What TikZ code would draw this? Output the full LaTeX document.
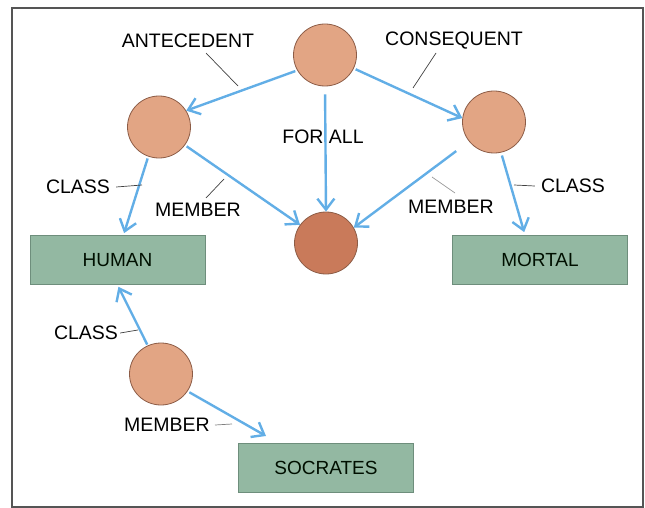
\documentclass[tikz,border=0pt]{standalone}
\usepackage{fontspec}
\setmainfont{Liberation Sans}
\usetikzlibrary{shapes.geometric,arrows.meta,calc}
\definecolor{peach}{HTML}{E2A584}
\definecolor{peachdark}{HTML}{C97A5A}
\definecolor{peachline}{HTML}{8C5C46}
\definecolor{boxgreen}{HTML}{93B8A2}
\definecolor{boxline}{HTML}{6E8E7C}
\definecolor{arrowblue}{HTML}{62AEE6}
\definecolor{frameg}{HTML}{555555}
\tikzset{
  concept/.style={ellipse, draw=peachline, line width=0.8pt, fill=peach, minimum width=63pt, minimum height=62pt, inner sep=0pt},
  classbox/.style={rectangle, draw=boxline, line width=1pt, fill=boxgreen, minimum width=175pt, minimum height=49pt, font=\fontsize{19}{21}\selectfont, text=black!85!green!40!black},
  lbl/.style={font=\fontsize{19.5}{21}\selectfont, inner sep=0pt, text=black},
  link/.style={draw=arrowblue, line width=2.4pt, -{Straight Barb[length=11pt,width=17pt,line width=2.4pt]}},
  leader/.style={draw=black!75, line width=0.7pt},
}
\begin{document}
\begin{tikzpicture}[x=1pt,y=-1pt]
\useasboundingbox (0,0) rectangle (645,508);
\draw[frameg, line width=2.2pt] (12,8) rectangle (643,507);

\node[concept] (top) at (325,55) {};
\node[concept] (L) at (159,127) {};
\node[concept] (R) at (494,122) {};
\node[concept, fill=peachdark] (C) at (326,243) {};
\node[concept] (B) at (161,374) {};

\node[classbox] (human) at (117.5,260) {HUMAN};
\node[classbox] (mortal) at (540,260) {MORTAL};
\node[classbox] (socrates) at (326,468) {SOCRATES};

\node[lbl] (antecedent) at (188,41) {ANTECEDENT};
\node[lbl] (consequent) at (454,41) {CONSEQUENT};
\node[lbl] (forall) at (323,137) {FOR ALL};
\node[lbl] (classL) at (78,187) {CLASS};
\node[lbl] (memberL) at (198,210) {MEMBER};
\node[lbl] (memberR) at (451,207) {MEMBER};
\node[lbl] (classR) at (573,186) {CLASS};
\node[lbl] (classB) at (86,333) {CLASS};
\node[lbl] (memberB) at (167,425) {MEMBER};

% arrows
\draw[link, shorten <=2pt] (top.209) -- (L.31);
\draw[link, shorten <=2pt] (top.335) -- (R.173);
\draw[link, shorten <=8pt] (top.south) -- (C.north);
\draw[link, shorten <=2pt, shorten >=2pt] (L.250) -- ([xshift=6pt]human.north);
\draw[link, shorten <=2pt] (L.325) -- (C.145);
\draw[link, shorten <=16pt] (R.218) -- (C.29);
\draw[link, shorten <=3pt, shorten >=3pt] (R.283) -- ([xshift=-15pt]mortal.north);
\draw[link, shorten <=1pt, shorten >=2pt] (B.115) -- (human.south);
\draw[link, shorten <=2pt] (B.327) -- ([xshift=-60pt,yshift=7pt]socrates.north);

% leader lines
\coordinate (a1) at (238,86);
\coordinate (c1) at (413,88);
\coordinate (cl1) at (142,185);
\coordinate (ml1) at (224,179);
\coordinate (mr1) at (432,177);
\coordinate (cr1) at (514,185);
\coordinate (cb1) at (138,330);
\coordinate (mb1) at (232,424);
\draw[leader] (206,53) -- (a1);
\draw[leader] (436,53) -- (c1);
\draw[leader] ([xshift=6pt]classL.east) -- (cl1);
\draw[leader] (206,198) -- (ml1);
\draw[leader, draw=black!40] (455,193) -- (mr1);
\draw[leader] ([xshift=-6pt]classR.west) -- (cr1);
\draw[leader] ([xshift=2pt]classB.east) -- (cb1);
\draw[leader, draw=black!50] ([xshift=5pt]memberB.east) -- (mb1);
\end{tikzpicture}
\end{document}
